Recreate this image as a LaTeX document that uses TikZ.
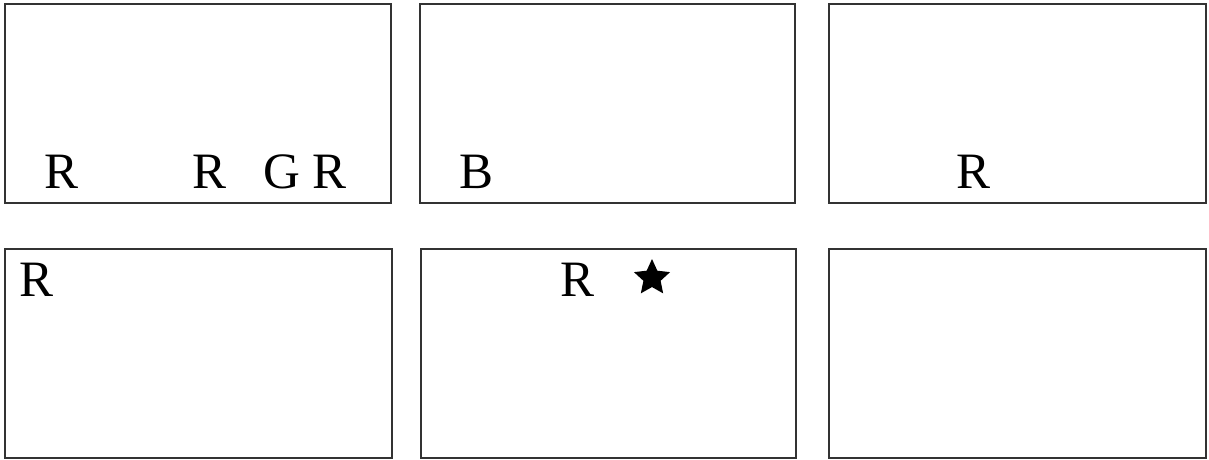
\documentclass[tikz,border=0pt]{standalone}
\usepackage{fontspec}
\setmainfont{Liberation Serif}
\usetikzlibrary{shapes.geometric}

\tikzset{
  panel/.style={draw=black!80, line width=1.2pt},
  letter/.style={anchor=base west, inner sep=0pt, font=\fontsize{51}{60}\selectfont}
}

\begin{document}
\begin{tikzpicture}[x=1pt, y=-1pt]
  \useasboundingbox (0,0) rectangle (1209,460);

  % Top row of panels
  \draw[panel] (5,4) rectangle (391,203);
  \draw[panel] (420,4) rectangle (795,203);
  \draw[panel] (829,4) rectangle (1206,203);

  % Bottom row of panels
  \draw[panel] (5,249) rectangle (392,458);
  \draw[panel] (421,249) rectangle (796,458);
  \draw[panel] (829,249) rectangle (1206,458);

  % Letters in the top row
  \node[letter] (r1) at (44,188) {R};
  \node[letter] (r2) at (192,188) {R};
  \node[letter] (g1) at (263,188) {G};
  \node[letter] (r3) at (312,188) {R};
  \node[letter] (b1) at (459,188) {B};
  \node[letter] (r4) at (956,188) {R};

  % Letters in the bottom row
  \node[letter] (r5) at (19,296) {R};
  \node[letter] (r6) at (560,296) {R};

  % The star
  \node[star, star points=5, star point ratio=2.1, fill=black, inner sep=0pt,
        minimum size=38pt] (star) at (652,278) {};
\end{tikzpicture}
\end{document}
